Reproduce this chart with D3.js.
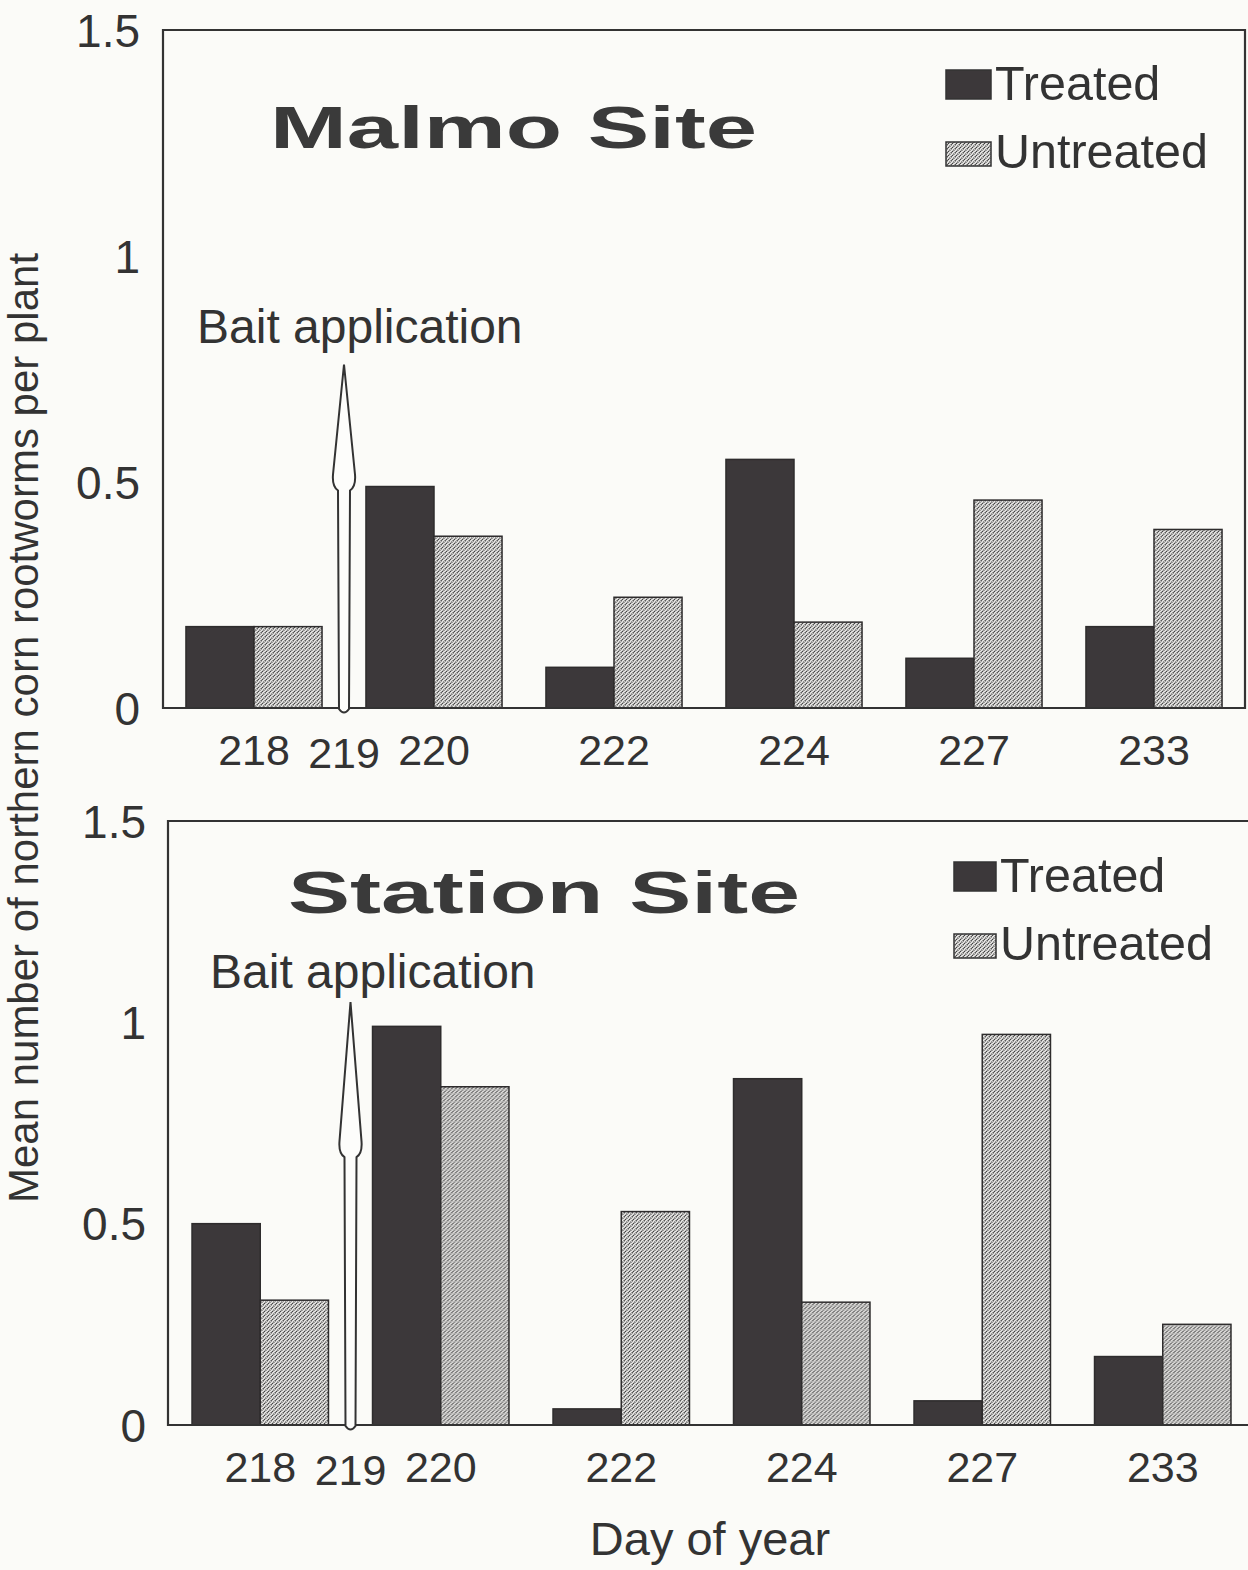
<!DOCTYPE html>
<html>
<head>
<meta charset="utf-8">
<script src="https://cdn.jsdelivr.net/npm/d3@7"></script>
<style>
  html, body { margin: 0; padding: 0; background: #fbfbf8; }
  svg { display: block; }
  text { font-family: "Liberation Sans", Arial, sans-serif; fill: #333; }
</style>
</head>
<body>
<svg id="chart" width="1248" height="1570"></svg>
<script>
// ---- data ----
const days = ["218", "220", "222", "224", "227", "233"];
const baitDay = "219";
const seriesNames = ["Treated", "Untreated"];
const malmoTreated   = [0.18, 0.49, 0.09, 0.55, 0.11, 0.18];
const malmoUntreated = [0.18, 0.38, 0.245, 0.19, 0.46, 0.395];
const stationTreated   = [0.50, 0.99, 0.04, 0.86, 0.06, 0.17];
const stationUntreated = [0.31, 0.84, 0.53, 0.305, 0.97, 0.25];
const yTicks = [0, 0.5, 1, 1.5];
const yTickLabels = ["0", "0.5", "1", "1.5"];
const panelTitles = ["Malmo Site", "Station Site"];
const arrowTip = [0.76, 1.05];
const arrowBarb = [0.49, 0.675];

const svg = d3.select("#chart");
const defs = svg.append("defs");
const pat = defs.append("pattern")
  .attr("id", "stipple").attr("patternUnits", "userSpaceOnUse")
  .attr("width", 4).attr("height", 4);
pat.append("rect").attr("width", 4).attr("height", 4).attr("fill", "#ecebe9");
pat.append("path").attr("d", "M-1,1 L1,-1 M0,4 L4,0 M3,5 L5,3")
  .attr("stroke", "#3e3e3e").attr("stroke-width", 1.5).attr("stroke-dasharray", "1.3,0.7");

const panels = [
  { title: panelTitles[0], treated: malmoTreated, untreated: malmoUntreated,
    left: 163, right: 1245, top: 30, bottom: 708, xr: [164, 1244], tickX: 140,
    titleX: 270, titleY: 148, titleLen: 487,
    legX: 946, legY1: 100, legY2: 168, sw: 45,
    baitX: 197, baitY: 343, tickY: 765, frameRight: true, arrowIdx: 0 },
  { title: panelTitles[1], treated: stationTreated, untreated: stationUntreated,
    left: 168, right: 1256, top: 821, bottom: 1425, xr: [170, 1253], tickX: 146,
    titleX: 288, titleY: 913, titleLen: 512,
    legX: 954, legY1: 892, legY2: 960, sw: 42,
    baitX: 210, baitY: 988, tickY: 1482, frameRight: false, arrowIdx: 1 }
];

panels.forEach(p => {
  const g = svg.append("g");
  const y = d3.scaleLinear().domain([0, 1.5]).range([p.bottom, p.top]);
  const x = d3.scaleBand().domain(days).range(p.xr).paddingInner(0.244).paddingOuter(0.122);
  const x1 = d3.scaleBand().domain(seriesNames).range([0, x.bandwidth()]);

  // bars
  const rows = days.map((d, i) => ({ day: d, vals: [p.treated[i], p.untreated[i]] }));
  const grp = g.selectAll("g.day").data(rows).enter().append("g")
    .attr("transform", d => `translate(${x(d.day)},0)`);
  grp.selectAll("rect").data(d => d.vals.map((v, k) => ({ k, v }))).enter().append("rect")
    .attr("x", d => x1(seriesNames[d.k]))
    .attr("width", x1.bandwidth())
    .attr("y", d => y(d.v))
    .attr("height", d => y(0) - y(d.v))
    .attr("fill", d => d.k === 0 ? "#3c383a" : "url(#stipple)")
    .attr("stroke", "#2e2c2d").attr("stroke-width", 1.5);

  // frame
  g.append("path")
    .attr("d", p.frameRight
      ? `M${p.left},${p.bottom} L${p.left},${p.top} L${p.right},${p.top} L${p.right},${p.bottom} Z`
      : `M${p.right},${p.top} L${p.left},${p.top} L${p.left},${p.bottom} L${p.right},${p.bottom}`)
    .attr("fill", "none").attr("stroke", "#333").attr("stroke-width", 2.2);

  // y axis labels
  g.selectAll("text.yt").data(yTicks).enter().append("text")
    .attr("x", p.tickX).attr("y", d => y(d)).attr("dy", "0.36em")
    .attr("text-anchor", "end").style("font-size", "46px")
    .text((d, i) => yTickLabels[i]);

  // x tick labels
  g.selectAll("text.xt").data(days).enter().append("text")
    .attr("x", d => x(d) + x.bandwidth() / 2).attr("y", p.tickY)
    .attr("text-anchor", "middle").style("font-size", "43px").text(d => d);

  // bait arrow at day 219 (midway between 218 and 220)
  const ax = (x("218") + x("220")) / 2 + x.bandwidth() / 2;
  const y0 = y(0), yt = y(arrowTip[p.arrowIdx]), yb = y(arrowBarb[p.arrowIdx]);
  g.append("path")
    .attr("d", `M${ax - 5},${y0 + 1} L${ax - 6},${yb + 4} Q${ax - 12},${yb} ${ax - 11},${yb - 12}
      L${ax},${yt} L${ax + 11},${yb - 12} Q${ax + 12},${yb} ${ax + 6},${yb + 4}
      L${ax + 5},${y0 + 1} Q${ax},${y0 + 8} ${ax - 5},${y0 + 1} Z`)
    .attr("fill", "#fdfdfb").attr("stroke", "#333").attr("stroke-width", 2);
  g.append("text").attr("x", ax).attr("y", p.tickY + 3)
    .attr("text-anchor", "middle").style("font-size", "43px").text(baitDay);
  g.append("text").attr("x", p.baitX).attr("y", p.baitY)
    .style("font-size", "48px").text("Bait application");

  // title
  g.append("text").attr("x", p.titleX).attr("y", p.titleY)
    .attr("textLength", p.titleLen).attr("lengthAdjust", "spacingAndGlyphs")
    .style("font-size", "60px").style("font-weight", "bold").style("fill", "#3a3a3a")
    .text(p.title);

  // legend
  const legYs = [p.legY1, p.legY2];
  seriesNames.forEach((s, i) => {
    const h = i === 0 ? 29 : 24;
    g.append("rect").attr("x", p.legX).attr("y", legYs[i] - h - (i === 0 ? 1 : 2))
      .attr("width", p.sw).attr("height", h)
      .attr("fill", i === 0 ? "#3c383a" : "url(#stipple)")
      .attr("stroke", "#333").attr("stroke-width", 1.5);
    g.append("text").attr("x", p.legX + p.sw + 4).attr("y", legYs[i])
      .style("font-size", "48.5px").text(s);
  });
});

// shared axis titles
svg.append("text")
  .attr("transform", "translate(38,728) rotate(-90)")
  .attr("text-anchor", "middle").style("font-size", "42px")
  .text("Mean number of northern corn rootworms per plant");
svg.append("text").attr("x", 710).attr("y", 1555)
  .attr("text-anchor", "middle").style("font-size", "47px").text("Day of year");
</script>
</body>
</html>
